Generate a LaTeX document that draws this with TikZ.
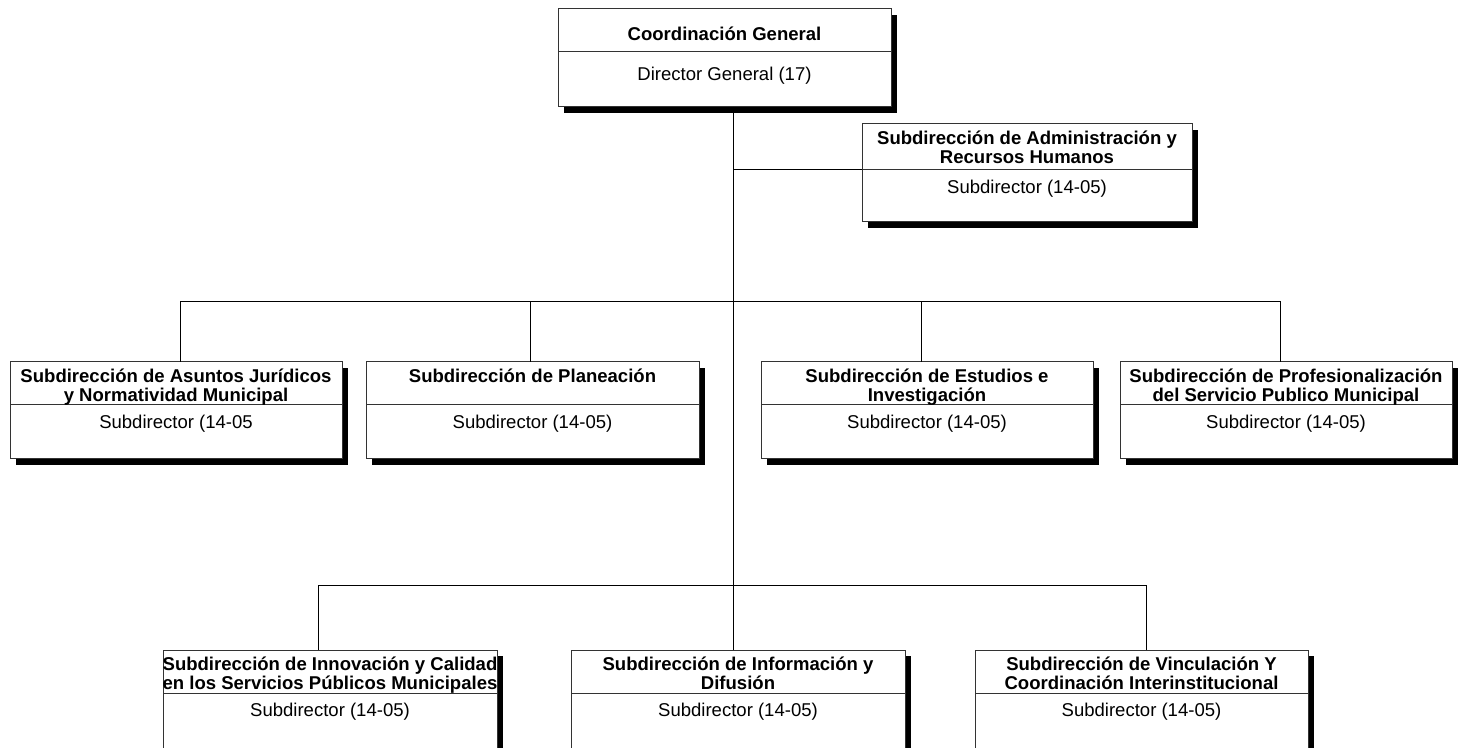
\documentclass[tikz,border=0pt]{standalone}
\usepackage{fontspec}
\setmainfont{Liberation Sans}
\usetikzlibrary{positioning,shadows}

% one box of the chart: name, x1, y1, x2, y2, line y, title, post
\newcommand{\orgbox}[8]{%
	\node[frame, minimum width={(#4-#2)*0.75pt}, minimum height={(#5-#3)*0.75pt}]
		(#1) at ({(#2+#4)/2}, {(#3+#5)/2}) {};
	\draw[rule] (#1.west |- 0,#6) -- (#1.east |- 0,#6);
	\node[head] (#1-head) at (#1.north) {#7};
	\node[post] (#1-post) at ({(#2+#4)/2}, #6) {#8};
}

\begin{document}
\begin{tikzpicture}
	[x=0.75pt, y=-0.75pt, line width=0.75pt,
	font=\fontsize{13.9}{14.8}\selectfont,
	frame/.style={draw=black!80, fill=white, inner sep=0pt, outer sep=0pt,
		drop shadow={shadow xshift=4.5pt, shadow yshift=-4.5pt, fill=black, opacity=1}},
	rule/.style={draw=black!80},
	head/.style={anchor=north, align=center, inner ysep=4.5pt, font=\fontsize{13.9}{14.9}\selectfont\bfseries},
	post/.style={anchor=north, align=center, inner ysep=7pt}]
	\clip (0,0) rectangle (1465,748);

	% head of the chart
	\node[frame, minimum width={333*0.75pt}, minimum height={98*0.75pt}] (coord) at (724.5,58) {};
	\draw[rule] (coord.west |- 0,52) -- (coord.east |- 0,52);
	\node[head, inner ysep=13pt] (coord-head) at (coord.north) {Coordinación General};
	\node[post, inner ysep=11pt] (coord-post) at (724.5,52) {Director General (17)};

	\orgbox{admin}{862}{124}{1192}{222}{170}{Subdirección de Administración y\\Recursos Humanos}{Subdirector (14-05)}

	\orgbox{legal}{10}{362}{342}{459}{405}{Subdirección de Asuntos Jurídicos\\y Normatividad Municipal}{Subdirector (14-05}
	\orgbox{plan}{366}{362}{699}{459}{405}{Subdirección de Planeación}{Subdirector (14-05)}
	\orgbox{estud}{761}{362}{1093}{459}{405}{Subdirección de Estudios e\\Investigación}{Subdirector (14-05)}
	\orgbox{prof}{1120}{362}{1452}{459}{405}{Subdirección de Profesionalización\\del Servicio Publico Municipal}{Subdirector (14-05)}

	\orgbox{inno}{163}{650}{497}{760}{693}{Subdirección de Innovación y Calidad\\en los Servicios Públicos Municipales}{Subdirector (14-05)}
	\orgbox{info}{571}{650}{905}{760}{693}{Subdirección de Información y\\Difusión}{Subdirector (14-05)}
	\orgbox{vinc}{975}{650}{1308}{760}{693}{Subdirección de Vinculación Y\\Coordinación Interinstitucional}{Subdirector (14-05)}

	% lines
	\coordinate (trunk) at (coord.south -| 733,0);
	\coordinate (bar2) at (733,302);
	\coordinate (bar3) at (733,586);
	\draw (trunk) -- (trunk |- info.north);
	\draw (trunk |- 0,170) -- (admin.west |- 0,170);
	\draw ([xshift=3pt]legal.north) |- ([xshift=-4.5pt]prof.north |- bar2) -- ([xshift=-4.5pt]prof.north);
	\draw ([xshift=-1.5pt]plan.north) -- ([xshift=-1.5pt]plan.north |- bar2);
	\draw ([xshift=-4.5pt]estud.north) -- ([xshift=-4.5pt]estud.north |- bar2);
	\draw ([xshift=-9pt]inno.north) |- ([xshift=3.75pt]vinc.north |- bar3) -- ([xshift=3.75pt]vinc.north);
\end{tikzpicture}
\end{document}
